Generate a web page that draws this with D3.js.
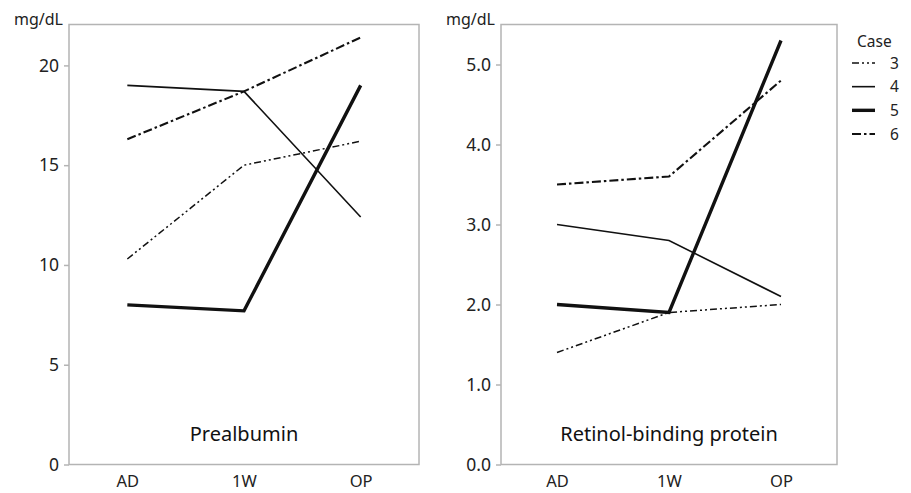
<!DOCTYPE html>
<html><head><meta charset="utf-8">
<script src="https://cdn.jsdelivr.net/npm/d3@7"></script>
<style>
html,body{margin:0;padding:0;background:#fff;}
svg{display:block;font-family:"Noto Sans","Open Sans",sans-serif;}
</style></head>
<body><svg id="chart" width="911" height="493"></svg>
<script>
// ---- data ----
const timepoints = ["AD", "1W", "OP"];
const cases = ["3", "4", "5", "6"];
const prealbuminCase3 = [10.3, 15.0, 16.2];
const prealbuminCase4 = [19.0, 18.7, 12.4];
const prealbuminCase5 = [8.0, 7.7, 19.0];
const prealbuminCase6 = [16.3, 18.7, 21.4];
const rbpCase3 = [1.4, 1.9, 2.0];
const rbpCase4 = [3.0, 2.8, 2.1];
const rbpCase5 = [2.0, 1.9, 5.3];
const rbpCase6 = [3.5, 3.6, 4.8];
const prealbuminTicks = [0, 5, 10, 15, 20];
const rbpTicks = [0, 1, 2, 3, 4, 5];

// ---- styles ----
const caseStyle = {
  "3": {w: 1.5, dash: "7,3,2,3,2,3"},
  "4": {w: 1.6, dash: null},
  "5": {w: 3.4, dash: null},
  "6": {w: 2.1, dash: "9,3,2.5,3"}
};
const frameColor = "#b4b4b4";
const lineColor = "#111";

const svg = d3.select("#chart");

const panels = [
  {title: "Prealbumin", x0: 69, x1: 419, domain: [0, 22.05], ticks: prealbuminTicks, fmt: d3.format("d"),
   series: {"3": prealbuminCase3, "4": prealbuminCase4, "5": prealbuminCase5, "6": prealbuminCase6}},
  {title: "Retinol-binding protein", x0: 501, x1: 837, domain: [0, 5.5], ticks: rbpTicks, fmt: d3.format(".1f"),
   series: {"3": rbpCase3, "4": rbpCase4, "5": rbpCase5, "6": rbpCase6}}
];
const plotTop = 24.5, plotBottom = 464.5;

panels.forEach(p => {
  const x = d3.scalePoint().domain(timepoints).range([p.x0, p.x1]).padding(0.5);
  const y = d3.scaleLinear().domain(p.domain).range([plotBottom, plotTop]);
  const g = svg.append("g");

  // frame
  g.append("rect").attr("x", p.x0).attr("y", plotTop).attr("width", p.x1 - p.x0).attr("height", plotBottom - plotTop)
    .attr("fill", "none").attr("stroke", frameColor).attr("stroke-width", 1.5);

  // y axis
  const ya = g.append("g").attr("transform", `translate(${p.x0},0)`)
    .call(d3.axisLeft(y).tickValues(p.ticks).tickFormat(p.fmt).tickSize(5).tickPadding(5));
  ya.select(".domain").remove();
  ya.selectAll("line").attr("stroke", frameColor).attr("stroke-width", 1.5);
  ya.selectAll("text").attr("font-size", 17.5).attr("fill", "#222").attr("font-family", "Noto Sans");

  // x axis
  const xa = g.append("g").attr("transform", `translate(0,${plotBottom})`)
    .call(d3.axisBottom(x).tickSize(0).tickPadding(11));
  xa.select(".domain").remove();
  xa.selectAll("text").attr("font-size", 16.5).attr("fill", "#222").attr("font-family", "Noto Sans");

  // unit label
  g.append("text").attr("x", p.x0 - 6).attr("y", 25).attr("text-anchor", "end")
    .attr("font-size", 16).attr("fill", "#222").text("mg/dL");

  // title inside
  g.append("text").attr("x", x("1W")).attr("y", 441).attr("text-anchor", "middle")
    .attr("font-size", 20).attr("fill", "#111").text(p.title);

  // lines
  const line = d3.line().x((d, i) => x(timepoints[i])).y(d => y(d));
  cases.forEach(c => {
    const s = caseStyle[c];
    g.append("path").datum(p.series[c]).attr("d", line)
      .attr("fill", "none").attr("stroke", lineColor).attr("stroke-width", s.w)
      .attr("stroke-dasharray", s.dash).attr("stroke-linejoin", "miter");
  });
});

// legend
const leg = svg.append("g");
leg.append("text").attr("x", 857).attr("y", 47).attr("font-size", 15.5).attr("fill", "#222").text("Case");
const ly = d3.scalePoint().domain(cases).range([63, 134]);
cases.forEach(c => {
  const s = caseStyle[c];
  leg.append("line").attr("x1", 852).attr("x2", 875).attr("y1", ly(c)).attr("y2", ly(c))
    .attr("stroke", lineColor).attr("stroke-width", s.w).attr("stroke-dasharray", s.dash);
  leg.append("text").attr("x", 890).attr("y", ly(c) + 5.5).attr("font-size", 15.5).attr("fill", "#222").text(c);
});
</script></body></html>
